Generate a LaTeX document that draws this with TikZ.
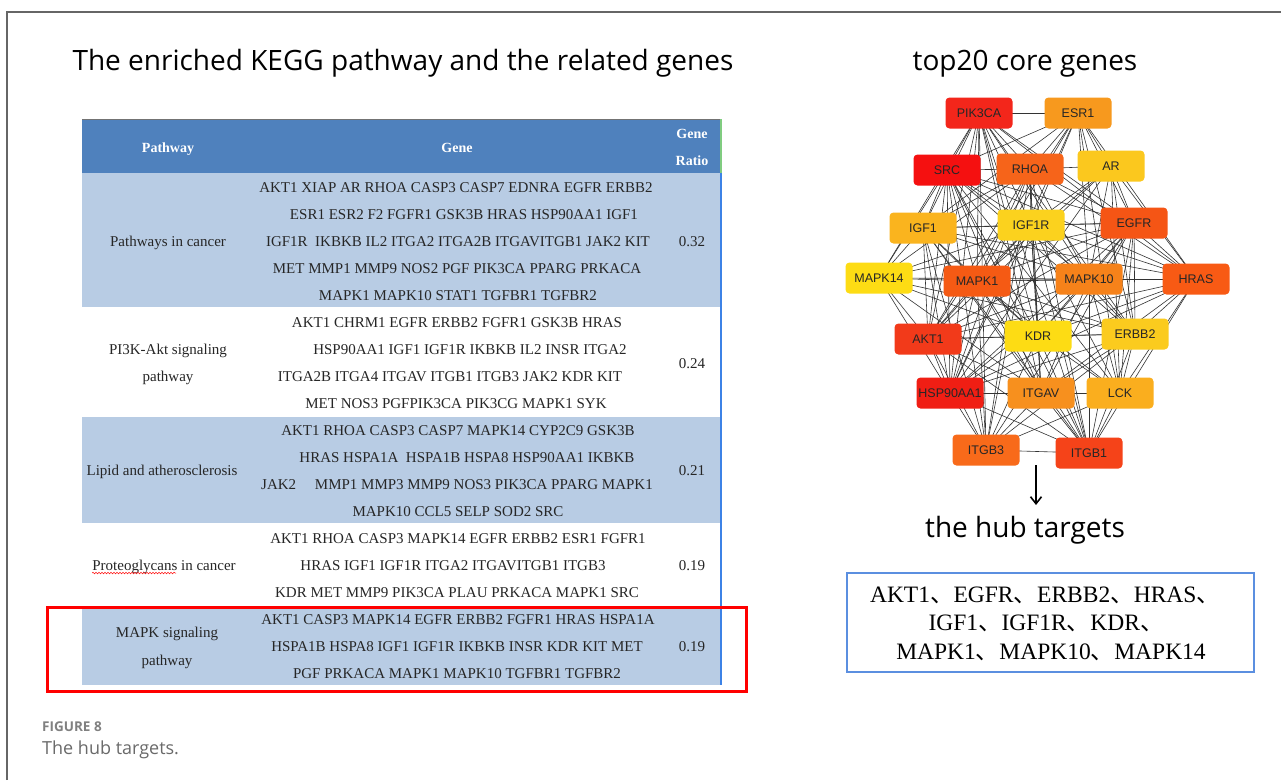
\documentclass[tikz,border=0pt]{standalone}
\usepackage{fontspec}
\setmainfont{Liberation Serif}
\newfontfamily\titlefont{Open Sans}
\newfontfamily\arialfont{Liberation Sans}
\newfontfamily\cjkfont{Noto Sans CJK SC}
\usetikzlibrary{arrows.meta,decorations.pathmorphing}
\pgfdeclarelayer{back}
\pgfdeclarelayer{bg}
\pgfsetlayers{back,bg,main}
\definecolor{hdrblue}{HTML}{4F81BD}
\definecolor{rowblue}{HTML}{B8CCE4}
\definecolor{edgeblue}{HTML}{3C82E6}
\definecolor{boxblue}{HTML}{5B8FE0}
\definecolor{framegray}{HTML}{666666}
\definecolor{capgray}{HTML}{6A6A6A}
\definecolor{cPIK}{HTML}{F3261B}
\definecolor{cSRC}{HTML}{F51010}
\definecolor{cHSP}{HTML}{F01E14}
\definecolor{cAKT}{HTML}{F23A1A}
\definecolor{cITGBa}{HTML}{F54319}
\definecolor{cEGFR}{HTML}{F55515}
\definecolor{cHRAS}{HTML}{F85A14}
\definecolor{cMAPKa}{HTML}{F55A14}
\definecolor{cRHOA}{HTML}{F6641A}
\definecolor{cITGBc}{HTML}{F86A1A}
\definecolor{cMAPKb}{HTML}{F6821A}
\definecolor{cITGAV}{HTML}{F7901E}
\definecolor{cESR}{HTML}{F7991E}
\definecolor{cLCK}{HTML}{FAAE1E}
\definecolor{cIGFa}{HTML}{FAB41E}
\definecolor{cAR}{HTML}{FBC81E}
\definecolor{cERBB}{HTML}{FBCB1E}
\definecolor{cIGFR}{HTML}{FBD21E}
\definecolor{cKDR}{HTML}{FDDC14}
\definecolor{cMAPKc}{HTML}{FDDC14}
\newcommand\dun{{\cjkfont 、}}
\tikzset{
  genetxt/.style={anchor=base, inner sep=0pt, font=\fontsize{15}{15}\selectfont, text=black!85},
  hdrtxt/.style={anchor=base, inner sep=0pt, font=\bfseries\fontsize{14}{14}\selectfont, text=white},
  gn/.style={rounded corners=4pt, minimum width=67pt, minimum height=31pt, inner sep=0pt,
     font=\arialfont\fontsize{12.5}{13}\selectfont, text=black!85},
  ppiedge/.style={draw=black!80, line width=0.6pt},
  bigtitle/.style={anchor=base, inner sep=0pt, font=\titlefont\fontsize{28}{28}\selectfont},
  hubtxt/.style={anchor=base, inner sep=0pt, font=\fontsize{23.5}{23.5}\selectfont},
}
\begin{document}
\begin{tikzpicture}[x=1pt,y=-1pt]
\useasboundingbox (0,0) rectangle (1281,780);
\begin{pgfonlayer}{back}
\fill[white] (0,0) rectangle (1281,780);
\end{pgfonlayer}
% frame
\draw[framegray, line width=1.3pt] (7,780) -- (7,12) -- (1281,12);
% titles
\node[bigtitle] (t1) at (403,70) {The enriched KEGG pathway and the related genes};
\node[bigtitle] (t2) at (1025,70) {top20 core genes};
% table
\fill[hdrblue] (82,119) rectangle (721,173);
\draw[black!55, line width=0.6pt] (82,119) -- (721,119);
\fill[rowblue] (82,173) rectangle (720,307);
\fill[rowblue] (82,417) rectangle (720,523);
\fill[rowblue] (82,607) rectangle (720,685);
\draw[edgeblue, line width=2pt] (721,173) -- (721,685);
\draw[green!60!black!50!white, line width=2pt] (721,119) -- (721,173);
% header
\node[hdrtxt] (hp) at (168,152) {Pathway};
\node[hdrtxt] (hg) at (457,152) {Gene};
\node[hdrtxt] (hr1) at (692,138) {Gene};
\node[hdrtxt] (hr2) at (692,165) {Ratio};
% row 1
\node[genetxt] (p1) at (168,246) {Pathways in cancer};
\node[genetxt] (g11) at (456,192) {AKT1 XIAP AR RHOA CASP3 CASP7 EDNRA EGFR ERBB2};
\node[genetxt] (g12) at (464,219) {ESR1 ESR2 F2 FGFR1 GSK3B HRAS HSP90AA1 IGF1};
\node[genetxt] (g13) at (458,246) {IGF1R\ \ IKBKB IL2 ITGA2 ITGA2B ITGAVITGB1 JAK2 KIT};
\node[genetxt] (g14) at (457,273) {MET MMP1\ MMP9 NOS2 PGF PIK3CA PPARG PRKACA};
\node[genetxt] (g15) at (458,300) {MAPK1 MAPK10 STAT1 TGFBR1 TGFBR2};
\node[genetxt] (r1) at (692,246) {0.32};
% row 2
\node[genetxt] (p2a) at (168,354) {PI3K-Akt signaling};
\node[genetxt] (p2b) at (168,381) {pathway};
\node[genetxt] (g21) at (457,327) {AKT1 CHRM1 EGFR ERBB2 FGFR1 GSK3B HRAS};
\node[genetxt] (g22) at (470,354) {HSP90AA1 IGF1 IGF1R IKBKB IL2 INSR ITGA2};
\node[genetxt] (g23) at (450,381) {ITGA2B ITGA4 ITGAV ITGB1 ITGB3 JAK2 KDR KIT};
\node[genetxt] (g24) at (456,408) {MET NOS3 PGFPIK3CA PIK3CG MAPK1 SYK};
\node[genetxt] (r2) at (692,368) {0.24};
% row 3
\node[genetxt] (p3) at (162,475) {Lipid and atherosclerosis};
\node[genetxt] (g31) at (458,435) {AKT1 RHOA CASP3 CASP7 MAPK14 CYP2C9 GSK3B};
\node[genetxt] (g32) at (467,462) {HRAS HSPA1A\ \ HSPA1B HSPA8 HSP90AA1 IKBKB};
\node[genetxt] (g33) at (457,489) {JAK2\ \ \ \ \ MMP1 MMP3 MMP9 NOS3 PIK3CA PPARG MAPK1};
\node[genetxt] (g34) at (458,516) {MAPK10 CCL5 SELP SOD2 SRC};
\node[genetxt] (r3) at (692,475) {0.21};
% row 4
\node[genetxt] (p4) at (164,570) {Proteoglycans in cancer};
\draw[red, line width=0.5pt, decorate, decoration={snake, amplitude=0.8pt, segment length=3pt}]
  ([yshift=-3pt]p4.base west) -- ++(84,0);
\node[genetxt] (g41) at (458,543) {AKT1 RHOA CASP3 MAPK14 EGFR ERBB2 ESR1\ FGFR1};
\node[genetxt] (g42) at (453,570) {HRAS\ IGF1 IGF1R ITGA2 ITGAVITGB1 ITGB3};
\node[genetxt] (g43) at (457,597) {KDR MET MMP9 PIK3CA PLAU PRKACA MAPK1 SRC};
\node[genetxt] (r4) at (692,570) {0.19};
% row 5
\node[genetxt] (p5a) at (167,637) {MAPK signaling};
\node[genetxt] (p5b) at (167,665) {pathway};
\node[genetxt] (g51) at (458,624) {AKT1 CASP3 MAPK14 EGFR ERBB2 FGFR1 HRAS HSPA1A};
\node[genetxt] (g52) at (457,651) {HSPA1B HSPA8 IGF1 IGF1R IKBKB INSR KDR KIT MET};
\node[genetxt] (g53) at (457,678) {PGF PRKACA MAPK1 MAPK10 TGFBR1 TGFBR2};
\node[genetxt] (r5) at (692,651) {0.19};
% red highlight
\draw[red, line width=3pt] (47,607) rectangle (746,691);
% network nodes
\node[gn, fill=cPIK] (pik) at (979,113) {PIK3CA};
\node[gn, fill=cESR] (esr) at (1078,113) {ESR1};
\node[gn, fill=cSRC] (src) at (947,170) {SRC};
\node[gn, fill=cRHOA] (rhoa) at (1030,169) {RHOA};
\node[gn, fill=cAR] (ar) at (1111,166) {AR};
\node[gn, fill=cIGFa] (igf1) at (923,228) {IGF1};
\node[gn, fill=cIGFR] (igf1r) at (1031,225) {IGF1R};
\node[gn, fill=cEGFR] (egfr) at (1134,223) {EGFR};
\node[gn, fill=cMAPKc] (mapk14) at (879,278) {MAPK14};
\node[gn, fill=cMAPKa] (mapk1) at (977,281) {MAPK1};
\node[gn, fill=cMAPKb] (mapk10) at (1089,279) {MAPK10};
\node[gn, fill=cHRAS] (hras) at (1196,279) {HRAS};
\node[gn, fill=cAKT] (akt1) at (928,339) {AKT1};
\node[gn, fill=cKDR] (kdr) at (1038,336) {KDR};
\node[gn, fill=cERBB] (erbb2) at (1135,334) {ERBB2};
\node[gn, fill=cHSP] (hsp) at (950,393) {HSP90AA1};
\node[gn, fill=cITGAV] (itgav) at (1041,393) {ITGAV};
\node[gn, fill=cLCK] (lck) at (1120,393) {LCK};
\node[gn, fill=cITGBc] (itgb3) at (986,450) {ITGB3};
\node[gn, fill=cITGBa] (itgb1) at (1089,453) {ITGB1};
\begin{pgfonlayer}{bg}
\foreach \a/\b in {pik/esr,pik/src,pik/rhoa,pik/igf1,pik/igf1r,pik/egfr,pik/mapk1,pik/mapk10,pik/hras,pik/akt1,pik/kdr,pik/erbb2,pik/hsp,pik/itgav,pik/itgb3,pik/itgb1,pik/mapk14,
  esr/src,esr/rhoa,esr/ar,esr/igf1,esr/igf1r,esr/egfr,esr/mapk1,esr/hras,esr/akt1,esr/erbb2,esr/hsp,esr/mapk10,esr/lck,
  src/rhoa,src/igf1,src/igf1r,src/egfr,src/mapk14,src/mapk1,src/mapk10,src/hras,src/akt1,src/kdr,src/erbb2,src/hsp,src/itgav,src/itgb3,src/itgb1,src/lck,
  rhoa/ar,rhoa/igf1,rhoa/igf1r,rhoa/egfr,rhoa/mapk1,rhoa/mapk10,rhoa/hras,rhoa/akt1,rhoa/kdr,rhoa/hsp,rhoa/itgav,rhoa/itgb3,rhoa/itgb1,rhoa/mapk14,
  ar/igf1r,ar/egfr,ar/mapk1,ar/hras,ar/erbb2,ar/akt1,ar/hsp,ar/lck,ar/mapk10,
  igf1/igf1r,igf1/egfr,igf1/mapk14,igf1/mapk1,igf1/mapk10,igf1/akt1,igf1/kdr,igf1/hsp,igf1/itgav,igf1/itgb3,igf1/itgb1,igf1/hras,
  igf1r/egfr,igf1r/mapk1,igf1r/mapk10,igf1r/hras,igf1r/akt1,igf1r/kdr,igf1r/erbb2,igf1r/hsp,igf1r/itgav,igf1r/itgb3,igf1r/itgb1,igf1r/lck,igf1r/mapk14,
  egfr/mapk14,egfr/mapk1,egfr/mapk10,egfr/hras,egfr/akt1,egfr/kdr,egfr/erbb2,egfr/hsp,egfr/itgav,egfr/lck,egfr/itgb3,egfr/itgb1,
  mapk14/mapk1,mapk14/akt1,mapk14/hsp,mapk14/kdr,mapk14/itgav,mapk14/mapk10,mapk14/erbb2,
  mapk1/mapk10,mapk1/hras,mapk1/akt1,mapk1/kdr,mapk1/erbb2,mapk1/hsp,mapk1/itgav,mapk1/itgb3,mapk1/itgb1,mapk1/lck,
  mapk10/hras,mapk10/akt1,mapk10/kdr,mapk10/erbb2,mapk10/hsp,mapk10/itgav,mapk10/itgb1,mapk10/lck,
  hras/erbb2,hras/akt1,hras/kdr,hras/itgb1,hras/lck,hras/hsp,hras/itgav,
  akt1/kdr,akt1/hsp,akt1/itgav,akt1/itgb3,akt1/itgb1,akt1/erbb2,
  kdr/erbb2,kdr/itgav,kdr/hsp,kdr/itgb3,kdr/itgb1,kdr/lck,
  erbb2/hsp,erbb2/itgav,erbb2/lck,erbb2/itgb1,erbb2/itgb3,
  hsp/itgav,hsp/itgb3,hsp/itgb1,itgav/lck,itgav/itgb3,itgav/itgb1,lck/itgb1,lck/itgb3,itgb3/itgb1}
  \draw[ppiedge] (\a.center) -- (\b.center);
\end{pgfonlayer}
% arrow and hub targets
\coordinate (arrtop) at (1036,465);
\node[bigtitle] (hubt) at (1025,537) {the hub targets};
\draw[black, line width=1.8pt, -{Straight Barb[length=7pt,width=11pt,line width=1.6pt]}] (arrtop) -- (1036,505);
\node[draw=boxblue, line width=2pt, minimum width=407pt, minimum height=99pt, inner sep=0pt] (hubbox) at (1050.5,622.5) {};
\node[hubtxt] (h1) at (1045,602) {AKT1\dun EGFR\dun ERBB2\dun HRAS\dun};
\node[hubtxt] (h2) at (1046,630) {IGF1\dun IGF1R\dun KDR\dun};
\node[hubtxt] (h3) at (1051,659) {MAPK1\dun MAPK10\dun MAPK14};
% caption
\node[anchor=base west, inner sep=0pt, text=capgray!85, font=\titlefont\bfseries\fontsize{13.5}{13.5}\selectfont] (fig) at (42,731) {FIGURE 8};
\node[anchor=base west, inner sep=0pt, text=capgray, font=\titlefont\fontsize{18}{18}\selectfont] (cap) at (42,754) {The hub targets.};
\end{tikzpicture}
\end{document}
